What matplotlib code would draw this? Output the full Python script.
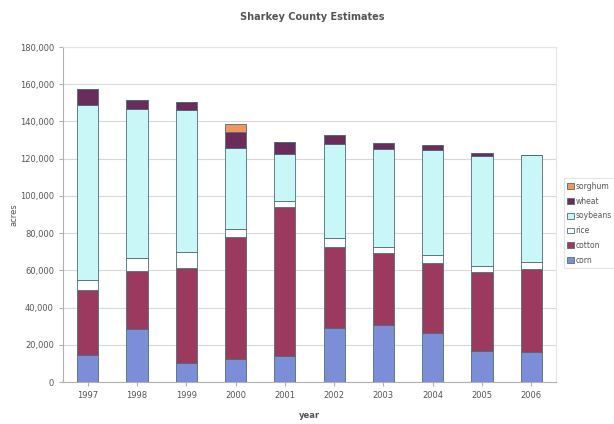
import numpy as np
import matplotlib.pyplot as plt
from matplotlib.ticker import FuncFormatter

years = ["1997", "1998", "1999", "2000", "2001", "2002", "2003", "2004", "2005", "2006"]

# acres per crop, stacked bottom to top
corn     = [14300, 28300, 10400, 12200, 14000, 28800, 30600, 26100, 16800, 15900]
cotton   = [35100, 31500, 51000, 65800, 80000, 43700, 38500, 37800, 42400, 44600]
rice     = [5400,  7000,  8600,  4100,  3300,  5000,  3700,  4100,  3400,  3800]
soybeans = [93900, 79800, 76400, 43400, 25300, 50300, 52300, 56700, 59100, 57600]
wheat    = [8500,  4800,  4100,  8900,  6400,  4800,  3200,  2900,  1600,  0]
sorghum  = [0,     0,     0,     4000,  0,     0,     0,     0,     0,     0]

series = [
    ("corn", corn, "#7d8ed8"),
    ("cotton", cotton, "#9b3a5e"),
    ("rice", rice, "#ffffff"),
    ("soybeans", soybeans, "#c9f6f7"),
    ("wheat", wheat, "#6b2c5c"),
    ("sorghum", sorghum, "#f0975e"),
]

fig = plt.figure(figsize=(6.14, 4.24), dpi=100)
ax = fig.add_axes([0.1026, 0.099, 0.8029, 0.79])

x = np.arange(len(years))
bottom = np.zeros(len(years))
for name, vals, col in series:
    vals = np.array(vals, dtype=float)
    ax.bar(x, vals, width=0.43, bottom=bottom, color=col, edgecolor="#4a6f76",
           linewidth=0.6, label=name, zorder=3)
    bottom += vals

ax.set_xlim(-0.5, len(years) - 0.5)
ax.set_ylim(0, 180000)
ax.set_yticks(np.arange(0, 180001, 20000))
ax.yaxis.set_major_formatter(FuncFormatter(lambda v, p: f"{int(v):,}"))
ax.set_xticks(x)
ax.set_xticklabels(years)
ax.grid(axis="y", color="#d8d8d8", linewidth=0.8, zorder=0)

for side in ["top", "right"]:
    ax.spines[side].set_color("#e4e4e4")
for side in ["left", "bottom"]:
    ax.spines[side].set_color("#b0b0b0")
ax.tick_params(colors="#b0b0b0", labelcolor="#555555", labelsize=6, length=3)

ax.set_ylabel("acres", fontsize=6, color="#555555", labelpad=1)
ax.set_xlabel("year", fontsize=6, color="#555555", fontweight="bold", labelpad=8)
fig.text(0.508, 0.96, "Sharkey County Estimates", ha="center", va="center",
         fontsize=7, fontweight="bold", color="#555555")

handles, labels = ax.get_legend_handles_labels()
leg = fig.legend(handles[::-1], labels[::-1], loc="upper left",
                 bbox_to_anchor=(0.918, 0.58), fontsize=5.5, frameon=True,
                 handlelength=0.8, handleheight=0.8, handletextpad=0.25,
                 labelspacing=0.75, borderpad=0.5, borderaxespad=0,
                 fancybox=False, labelcolor="#555555")
leg.get_frame().set_edgecolor("#dddddd")
leg.get_frame().set_linewidth(0.8)

fig.savefig("out.png", dpi=100)
